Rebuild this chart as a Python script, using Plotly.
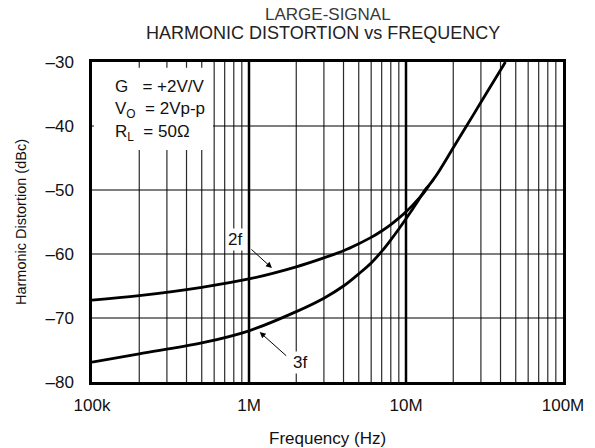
import numpy as np
import plotly.graph_objects as go

freq_2f = [1e5, 2e5, 5e5, 1e6, 2e6, 3e6, 4e6, 5e6, 6e6, 7e6, 8e6, 9e6, 1e7, 1.1e7, 1.2e7, 1.32e7,
           1.4e7, 1.5e7, 1.6e7, 2e7, 2.5e7, 3e7, 4.3e7]
hd_2f = [-67.2, -66.5, -65.2, -63.9, -62.0, -60.6, -59.5, -58.4, -57.4, -56.4, -55.4, -54.4, -53.4, -52.4,
         -51.4, -50.2, -49.3, -48.3, -47.3, -43.4, -39.5, -36.3, -30.0]

freq_3f = [1e5, 2e5, 5e5, 1e6, 2e6, 3e6, 4e6, 5e6, 6e6, 7e6, 8e6, 9e6, 1e7, 1.1e7, 1.2e7, 1.32e7, 1.4e7]
hd_3f = [-76.9, -75.6, -73.9, -72.0, -69.0, -66.9, -65.0, -63.1, -61.4, -59.6, -57.8, -56.1, -54.5, -53.0,
         -51.6, -50.0, -49.3]

x_ticks = [1e5, 1e6, 1e7, 1e8]
x_labels = ["100k", "1M", "10M", "100M"]
y_ticks = [-80, -70, -60, -50, -40, -30]
y_labels = ["–80", "–70", "–60", "–50", "–40", "–30"]

FONT = "Liberation Sans, Arial, sans-serif"
INK = "#111"

fig = go.Figure()
fig.add_trace(go.Scatter(x=freq_2f, y=hd_2f, mode="lines", line=dict(color="black", width=2.8, shape="spline"),
                         name="2f", showlegend=False))
fig.add_trace(go.Scatter(x=freq_3f, y=hd_3f, mode="lines", line=dict(color="black", width=2.8, shape="spline"),
                         name="3f", showlegend=False))

shapes = []
# vertical grid, log spaced
for dec in [1e5, 1e6, 1e7]:
    for m in range(2, 10):
        shapes.append(dict(type="line", xref="x", yref="paper", x0=dec * m, x1=dec * m, y0=0, y1=1,
                           line=dict(color="#2a2a2a", width=1.2), layer="below"))
for dec in [1e6, 1e7]:
    shapes.append(dict(type="line", xref="x", yref="paper", x0=dec, x1=dec, y0=0, y1=1,
                       line=dict(color="black", width=2.5), layer="below"))
# horizontal grid
for yv in y_ticks[1:-1]:
    shapes.append(dict(type="line", xref="paper", yref="y", x0=0, x1=1, y0=yv, y1=yv,
                       line=dict(color="black", width=1.2), layer="below"))
# white box behind the conditions text
shapes.append(dict(type="rect", xref="paper", yref="paper", x0=0.004, x1=0.257, y0=0.725, y1=0.982,
                   fillcolor="white", line=dict(width=0), layer="below"))

txt = dict(xref="paper", yref="paper", showarrow=False, font=dict(family=FONT, size=17, color=INK))
annotations = [
    dict(txt, text="G   = +2V/V", x=0.045, y=0.922, xanchor="left", yanchor="middle"),
    dict(txt, text="V<sub>O</sub>  = 2Vp-p", x=0.045, y=0.85, xanchor="left", yanchor="middle"),
    dict(txt, text="R<sub>L</sub>  = 50Ω", x=0.045, y=0.778, xanchor="left", yanchor="middle"),
    # title
    dict(txt, text="LARGE-SIGNAL", x=0.5, y=1.15, xanchor="center", yanchor="middle",
         font=dict(family=FONT, size=17, color="#383838")),
    dict(txt, text="HARMONIC DISTORTION vs FREQUENCY", x=0.49, y=1.09, xanchor="center", yanchor="middle",
         font=dict(family=FONT, size=18, color="#222")),
    # x axis title
    dict(txt, text="Frequency (Hz)", x=0.5, y=-0.175, xanchor="center", yanchor="middle"),
]

# curve labels and arrows
annotations += [
    dict(x=np.log10(8.15e5), y=-57.8, xref="x", yref="y", text="2f", showarrow=False, bgcolor="white",
         font=dict(family=FONT, size=17, color=INK)),
    dict(x=np.log10(2.11e6), y=-77.0, xref="x", yref="y", text="3f", showarrow=False, bgcolor="white",
         font=dict(family=FONT, size=17, color=INK)),
    dict(x=np.log10(1.4e6), y=-62.2, xref="x", yref="y", text="", showarrow=True, arrowhead=2, arrowsize=1.2,
         arrowwidth=1, arrowcolor="black", ax=-22, ay=-20),
    dict(x=np.log10(1.17e6), y=-72.2, xref="x", yref="y", text="", showarrow=True, arrowhead=2, arrowsize=1.2,
         arrowwidth=1, arrowcolor="black", ax=28, ay=25),
]

fig.update_layout(
    width=595, height=448,
    margin=dict(l=92, r=32, t=62, b=66),
    paper_bgcolor="white", plot_bgcolor="white",
    font=dict(family=FONT, size=17, color=INK),
    shapes=shapes, annotations=annotations,
)
fig.update_xaxes(type="log", range=[5, 8], tickvals=x_ticks, ticktext=x_labels, showgrid=False,
                 showline=True, linecolor="black", linewidth=2.5, mirror=True,
                 ticks="outside", ticklen=6, tickcolor="rgba(0,0,0,0)")
fig.update_yaxes(range=[-80, -30], tickvals=y_ticks, ticktext=y_labels, showgrid=False, zeroline=False,
                 showline=True, linecolor="black", linewidth=2.5, mirror=True,
                 ticks="outside", ticklen=12, tickcolor="rgba(0,0,0,0)",
                 title=dict(text="Harmonic Distortion (dBc)", font=dict(family=FONT, size=14.5, color=INK),
                            standoff=16))

fig.write_html("out.html", config={"displayModeBar": False},
               post_script="document.body.style.margin='0';")
